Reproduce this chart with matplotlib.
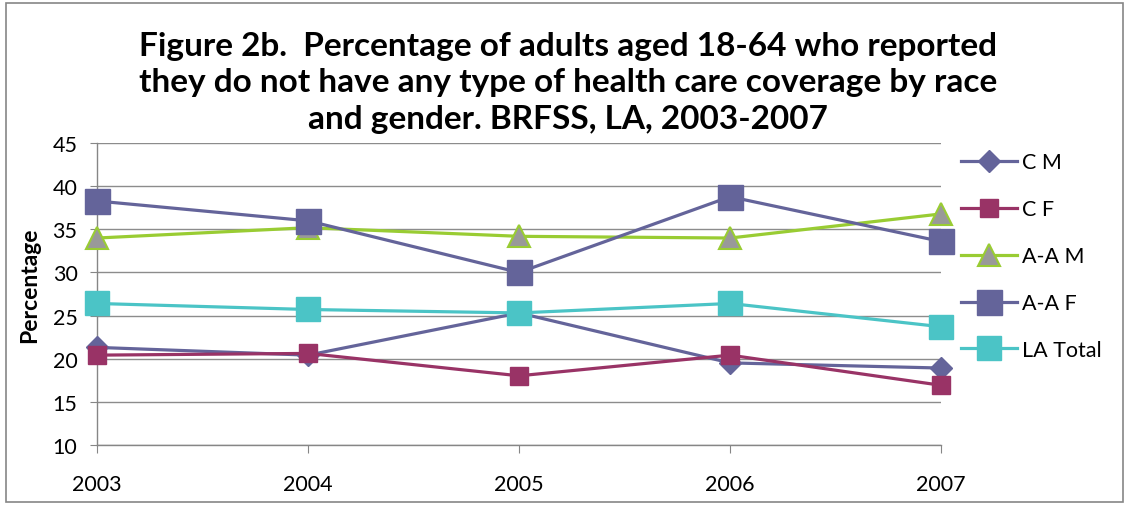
import numpy as np
import matplotlib.pyplot as plt
from matplotlib.patches import Rectangle

# survey years and the five series (percent with no coverage)
years = [2003, 2004, 2005, 2006, 2007]
cm = [21.3, 20.4, 25.3, 19.5, 18.9]
cf = [20.4, 20.6, 18.0, 20.4, 16.9]
aam = [34.0, 35.2, 34.2, 34.0, 36.8]
aaf = [38.3, 36.0, 30.0, 38.8, 33.6]
la_total = [26.4, 25.7, 25.3, 26.4, 23.7]

labels = ['C M', 'C F', 'A-A M', 'A-A F', 'LA Total']

fig = plt.figure(figsize=(11.29, 5.06), dpi=100)
ax = fig.add_axes([0.0859, 0.1192, 0.7476, 0.5956])

ax.plot(years, cm, color='#64649A', lw=2.3, marker='D', ms=11,
        mfc='#64649A', mec='#64649A', label=labels[0], zorder=3, clip_on=False)
ax.plot(years, cf, color='#993366', lw=2.3, marker='s', ms=13.5,
        mfc='#993366', mec='#993366', label=labels[1], zorder=3, clip_on=False)
ax.plot(years, aam, color='#99CC33', lw=2.3, marker='^', ms=16,
        mfc='#999999', mec='#99CC33', mew=1.5, label=labels[2], zorder=3,
        clip_on=False)
ax.plot(years, aaf, color='#64649A', lw=2.3, marker='s', ms=18,
        mfc='#64649A', mec='#64649A', label=labels[3], zorder=3, clip_on=False)
ax.plot(years, la_total, color='#4BC4C6', lw=2.3, marker='s', ms=17,
        mfc='#4BC4C6', mec='#4BC4C6', label=labels[4], zorder=3, clip_on=False)

ax.set_xlim(2003, 2007)
ax.set_ylim(10, 45)
ax.set_xticks(years)
ax.set_yticks(np.arange(10, 46, 5))
ax.grid(axis='y', color='#8C8C8C', lw=1)
ax.set_axisbelow(True)

for s in ['top', 'right']:
    ax.spines[s].set_visible(False)
for s in ['left', 'bottom']:
    ax.spines[s].set_color('#868686')
    ax.spines[s].set_linewidth(1)

ax.tick_params(axis='x', length=6, color='#868686', pad=15, labelsize=15.5)
ax.tick_params(axis='y', length=5, color='#868686', pad=9, labelsize=15.5)
for t in ax.get_xticklabels() + ax.get_yticklabels():
    t.set_fontfamily('Lato')

fig.text(30 / 1129, 1 - 285 / 506, 'Percentage', rotation=90, ha='center',
         va='center', fontsize=16.5, fontweight='bold', family='Lato')

fig.text(0.503, 1 - 83 / 506,
         'Figure 2b.  Percentage of adults aged 18-64 who reported\n'
         'they do not have any type of health care coverage by race\n'
         'and gender. BRFSS, LA, 2003-2007',
         ha='center', va='center', fontsize=24, fontweight='bold',
         family='Lato', linespacing=1.3)

leg = fig.legend(loc='upper left', bbox_to_anchor=(942 / 1129, 1 - 134 / 506),
                 frameon=False, prop={'family': 'Lato', 'size': 15.5},
                 handlelength=2.6, labelspacing=1.25, handletextpad=0.2)

fig.patches.append(Rectangle((6 / 1129, 3 / 506), 1117 / 1129, 499 / 506,
                             transform=fig.transFigure, fill=False,
                             edgecolor='#868686', lw=1.2))

fig.savefig('out.png', dpi=100)
